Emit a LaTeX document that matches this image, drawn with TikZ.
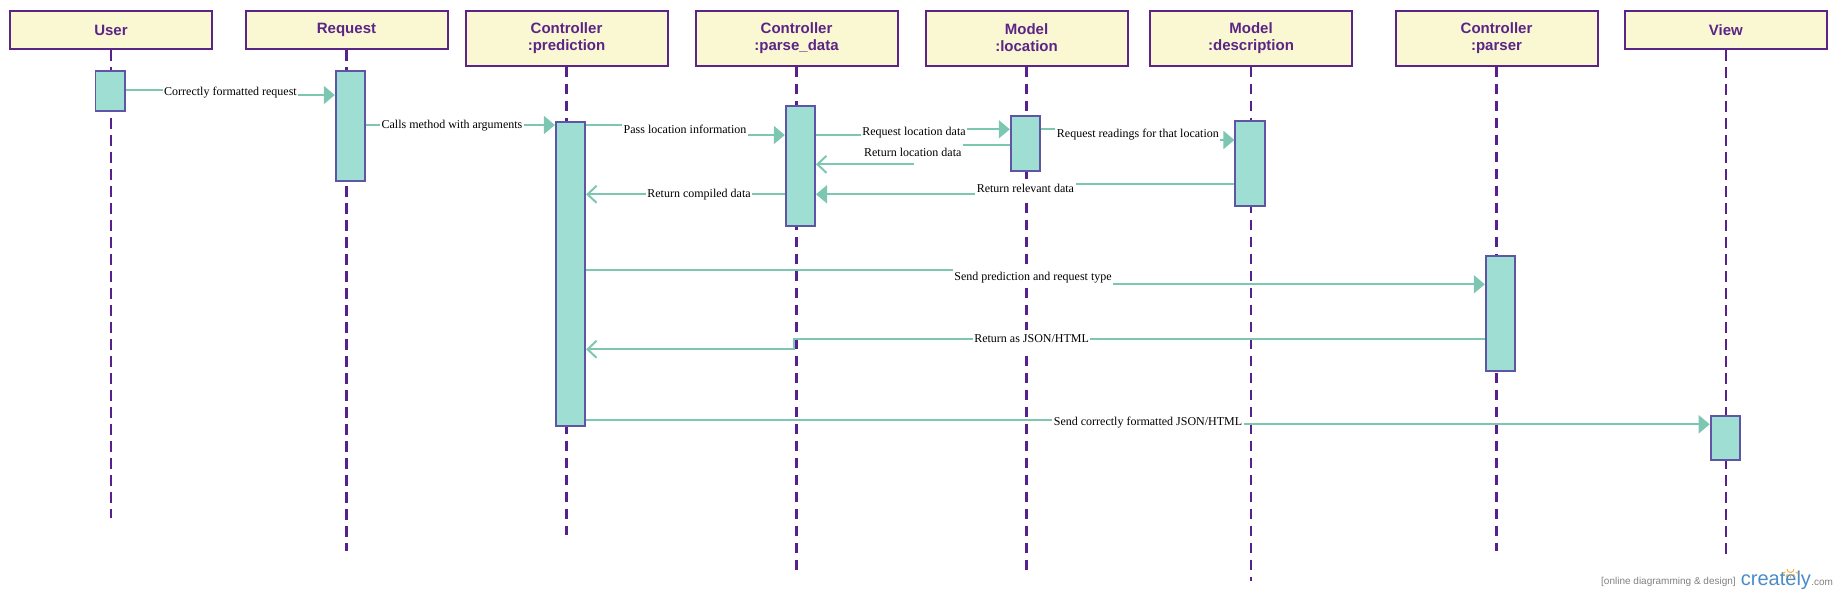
\documentclass[tikz,border=0pt]{standalone}
\usepackage{fontspec}
\setmainfont{Liberation Serif}
\setsansfont{Liberation Sans}
\definecolor{hdrFill}{HTML}{FAF7D3}
\definecolor{hdrLine}{HTML}{5B2586}
\definecolor{barFill}{HTML}{9FDED3}
\definecolor{barLine}{HTML}{5F55A6}
\definecolor{msgLine}{HTML}{7CC6B2}
\definecolor{lifeLine}{HTML}{57208A}
\definecolor{wmBlue}{HTML}{4A8BC9}
\definecolor{wmSun}{HTML}{F5B041}
\usepackage{tikz}
\usetikzlibrary{arrows.meta,positioning}

\begin{document}
\begin{tikzpicture}[
    x=1pt, y=-1pt,
    obj/.style={draw=hdrLine, line width=2pt, fill=hdrFill, minimum width=202pt,
                minimum height=38.6pt, align=center, text=hdrLine,
                font=\sffamily\bfseries\fontsize{15}{17}\selectfont},
    obj2/.style={obj, minimum height=54.8pt},
    bar/.style={draw=barLine, fill=barFill, line width=1.8pt, minimum width=29.4pt,
                inner sep=0pt, anchor=north},
    life/.style={draw=lifeLine, line width=2.2pt, dash pattern=on 10.5pt off 6.5pt},
    msg/.style={draw=msgLine, line width=2pt},
    call/.style={msg, -{Triangle[length=11pt, width=18pt]}},
    ret/.style={msg, -{Straight Barb[length=9pt, width=17pt]}},
    lbl/.style={fill=white, font=\fontsize{12}{14}\selectfont, inner xsep=1.5pt,
                inner ysep=4.5pt, text height=8.5pt, text depth=2pt}
  ]
    \useasboundingbox (0,0) rectangle (1839,595);

    % Objects
    \node[obj] (user) at (111,30) {User};
    \node[obj] (req) at (346.5,30) {Request};
    \node[obj2] (pred) at (566.5,38.1) {Controller\\:prediction};
    \node[obj2] (parse) at (796.5,38.1) {Controller\\:parse\_data};
    \node[obj2] (loc) at (1026.5,38.1) {Model\\:location};
    \node[obj2] (desc) at (1251,38.1) {Model\\:description};
    \node[obj2] (parser) at (1496.5,38.1) {Controller\\:parser};
    \node[obj] (view) at (1725.8,30) {View};

    % Lifelines
    \draw[life] (user.south) -- (user.south |- 0,518.3);
    \draw[life] (req.south) -- (req.south |- 0,550.7);
    \draw[life] (pred.south) -- (pred.south |- 0,534.7);
    \draw[life] (parse.south) -- (parse.south |- 0,570.7);
    \draw[life] (loc.south) -- (loc.south |- 0,570.7);
    \draw[life] (desc.south) -- (desc.south |- 0,580.7);
    \draw[life] (parser.south) -- (parser.south |- 0,550.7);
    \draw[life] (view.south) -- (view.south |- 0,560);

    % Activations
    \node[bar, minimum height=40.3pt] (ubar) at (110.2,70) {};
    \node[bar, minimum height=110.3pt] (rbar) at (350.4,69.7) {};
    \node[bar, minimum height=304.3pt] (pbar) at (570.5,120.7) {};
    \node[bar, minimum height=120pt] (dbar) at (800.4,105) {};
    \node[bar, minimum height=55.3pt] (lbar) at (1025.4,115) {};
    \node[bar, minimum height=85.3pt] (sbar) at (1250,119.7) {};
    \node[bar, minimum height=114.7pt] (cbar) at (1500.4,255.3) {};
    \node[bar, minimum height=44.3pt] (vbar) at (1725.3,414.7) {};

    % Messages
    \draw[call] (ubar.east |- 0,89.5) -| (230.5,92.2)
      node[lbl] {Correctly formatted request} |- (rbar.west |- 0,95);
    \draw[call] (rbar.east |- 0,125) -| (452,125)
      node[lbl] {Calls method with arguments} |- (pbar.west |- 0,125);
    \draw[call] (pbar.east |- 0,125) -| (685,130)
      node[lbl] {Pass location information} |- (dbar.west |- 0,135);
    \draw[call] (dbar.east |- 0,135) -| (914,132.2)
      node[lbl] {Request location data} |- (lbar.west |- 0,129.3);
    \draw[ret] (lbar.west |- 0,144.7) -| (912.8,153.5)
      node[lbl] {Return location data} |- (dbar.east |- 0,164.3);
    \draw[call] (lbar.east |- 0,129.3) -| (1137.9,134.7)
      node[lbl] {Request readings for that location} |- (sbar.west |- 0,140);
    \draw[call] (sbar.west |- 0,184.3) -| (1025.4,189.3)
      node[lbl] {Return relevant data} |- (dbar.east |- 0,194.3);
    \draw[ret] (dbar.west |- 0,194.3) -| (699,194.3)
      node[lbl] {Return compiled data} |- (pbar.east |- 0,194.3);
    \draw[call] (pbar.east |- 0,270) -| (1033,277.2)
      node[lbl] {Send prediction and request type} |- (cbar.west |- 0,284.3);
    \draw[ret] (cbar.west |- 0,339.3) -- node[lbl, pos=0.656] {Return as JSON/HTML}
      (794,339.3) |- (pbar.east |- 0,349.3);
    \draw[call] (pbar.east |- 0,420) -| (1148,422.2)
      node[lbl] {Send correctly formatted JSON/HTML} |- (vbar.west |- 0,424.3);

    % Watermark
    \node[anchor=base west, inner sep=0pt, text=gray, font=\sffamily\fontsize{10}{12}\selectfont]
      (wmtag) at (1601,584) {[online diagramming \& design]};
    \node[anchor=base west, inner sep=0pt, text=wmBlue, font=\sffamily\fontsize{20}{24}\selectfont]
      (wmname) at (1740.7,585) {creately};
    \node[anchor=base west, inner sep=0pt, text=gray, font=\sffamily\fontsize{10}{12}\selectfont]
      (wmcom) at (wmname.base east) {.com};
    \draw[wmSun, line width=1pt] (1787,569) arc (180:0:3.5);
    \foreach \a in {30,60,90,120,150}
      \draw[wmSun, line width=1pt] (1790.5,569) ++(\a:6) -- ++(\a:3);
  \end{tikzpicture}
\end{document}
